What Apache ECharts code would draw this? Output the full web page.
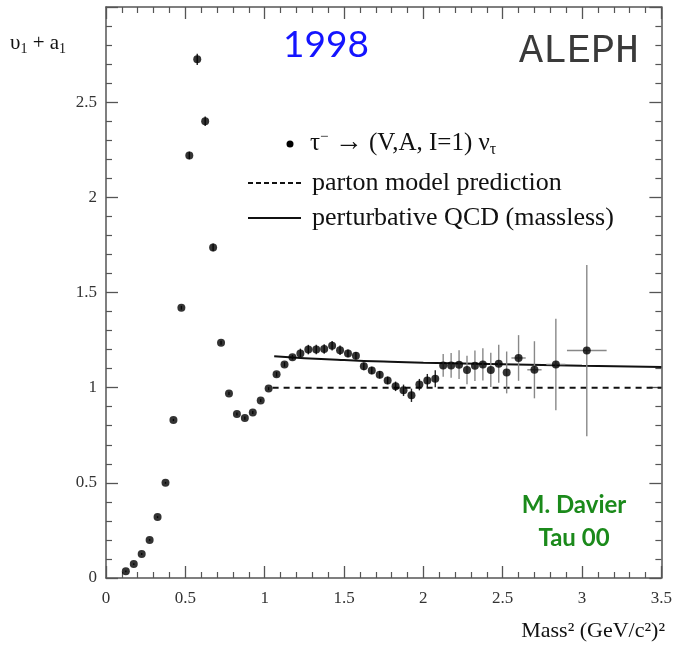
<!DOCTYPE html>
<html>
<head>
<meta charset="utf-8">
<script src="https://cdn.jsdelivr.net/npm/echarts@6/dist/echarts.min.js"></script>
<style>
  html, body { margin: 0; padding: 0; background: #fff; }
  #chart { width: 675px; height: 656px; }
</style>
</head>
<body>
<div id="chart"></div>
<script>
  // measured points, (V+A) spectral function, ALEPH 1998
  var massSq = [0.125, 0.175, 0.225, 0.275, 0.325, 0.375, 0.425, 0.475, 0.525, 0.575,
    0.625, 0.675, 0.725, 0.775, 0.825, 0.875, 0.925, 0.975, 1.025, 1.075,
    1.125, 1.175, 1.225, 1.275, 1.325, 1.375, 1.425, 1.475, 1.525, 1.575,
    1.625, 1.675, 1.725, 1.775, 1.825, 1.875, 1.925, 1.975, 2.025, 2.075,
    2.125, 2.175, 2.225, 2.275, 2.325, 2.375, 2.425, 2.475, 2.525, 2.600,
    2.700, 2.835, 3.030]
  var spectral = [0.035, 0.073, 0.126, 0.200, 0.320, 0.500, 0.830, 1.420, 2.220, 2.725,
    2.400, 1.737, 1.236, 0.970, 0.862, 0.840, 0.869, 0.933, 0.995, 1.070,
    1.122, 1.160, 1.180, 1.200, 1.200, 1.203, 1.220, 1.196, 1.180, 1.168,
    1.112, 1.090, 1.068, 1.038, 1.007, 0.986, 0.960, 1.016, 1.037, 1.047,
    1.117, 1.117, 1.121, 1.093, 1.115, 1.122, 1.093, 1.126, 1.080, 1.156,
    1.094, 1.122, 1.195]
  var errY = [0.005, 0.005, 0.005, 0.005, 0.005, 0.005, 0.006, 0.010, 0.020, 0.030,
    0.025, 0.020, 0.010, 0.008, 0.008, 0.008, 0.008, 0.008, 0.008, 0.012,
    0.012, 0.012, 0.025, 0.025, 0.025, 0.025, 0.025, 0.025, 0.020, 0.020,
    0.020, 0.020, 0.020, 0.020, 0.025, 0.030, 0.035, 0.030, 0.035, 0.045,
    0.060, 0.065, 0.075, 0.075, 0.080, 0.085, 0.090, 0.100, 0.110, 0.120,
    0.150, 0.240, 0.450]
  var errX = [0, 0, 0, 0, 0, 0, 0, 0, 0, 0,
    0, 0, 0, 0, 0, 0, 0, 0, 0, 0,
    0, 0, 0, 0, 0, 0, 0, 0, 0, 0,
    0, 0, 0, 0, 0, 0, 0, 0, 0, 0,
    0, 0, 0, 0, 0, 0, 0, 0, 0, 0.045,
    0.045, 0.060, 0.125]

  var partonX = [1.05, 3.5]
  var partonY = [1.0, 1.0]
  var qcdX = [1.06, 1.25, 1.5, 1.75, 2.0, 2.5, 3.0, 3.5]
  var qcdY = [1.165, 1.155, 1.145, 1.137, 1.131, 1.123, 1.115, 1.108]

  var xTicks = [0, 3.5, 0.5]   // min, max, step
  var yTicks = [0, 3, 0.5]

  var serif = '"Liberation Serif", "DejaVu Serif", serif'
  var frame = '#555'

  function axisBase(pos, ticks, showLabel) {
    return {
      type: 'value',
      position: pos,
      min: ticks[0],
      max: ticks[1],
      interval: ticks[2],
      axisLine: { show: true, onZero: false, lineStyle: { color: frame, width: 1.5 } },
      axisTick: { show: true, inside: true, length: 12, lineStyle: { color: frame, width: 1.3 } },
      minorTick: { show: true, splitNumber: 5, length: 6, lineStyle: { color: frame, width: 1.2 } },
      splitLine: { show: false },
      minorSplitLine: { show: false },
      axisLabel: {
        show: showLabel,
        fontFamily: serif,
        fontSize: 17,
        color: '#333',
        margin: 9
      }
    }
  }

  var points = massSq.map(function (x, i) { return [x, spectral[i]] })
  var bars = massSq.map(function (x, i) { return [x, spectral[i], errY[i], errX[i]] })

  var chart = echarts.init(document.getElementById('chart'), null, { renderer: 'canvas' })

  var xBottom = axisBase('bottom', xTicks, true)
  xBottom.axisLabel.margin = 12
  var yLeft = axisBase('left', yTicks, true)
  yLeft.axisLabel.showMaxLabel = false

  chart.setOption({
    animation: false,
    backgroundColor: '#fff',
    grid: { left: 106, top: 7, right: 11, bottom: 78 },
    xAxis: [xBottom, axisBase('top', xTicks, false)],
    yAxis: [yLeft, axisBase('right', yTicks, false)],
    series: [
      {
        name: 'parton model prediction',
        type: 'line',
        data: partonX.map(function (x, i) { return [x, partonY[i]] }),
        showSymbol: false,
        lineStyle: { color: '#111', width: 2, type: [6, 5] },
        z: 2
      },
      {
        name: 'perturbative QCD (massless)',
        type: 'line',
        smooth: true,
        data: qcdX.map(function (x, i) { return [x, qcdY[i]] }),
        showSymbol: false,
        lineStyle: { color: '#111', width: 2 },
        z: 2
      },
      {
        name: 'errors',
        type: 'custom',
        data: bars,
        encode: { x: 0, y: 1 },
        renderItem: function (params, api) {
          var x = api.value(0), y = api.value(1), ey = api.value(2), ex = api.value(3)
          var lo = api.coord([x, y - ey]), hi = api.coord([x, y + ey])
          var l = api.coord([x - ex, y]), r = api.coord([x + ex, y])
          var style = { stroke: ey > 0.05 ? '#888' : '#222', lineWidth: 1.4 }
          var kids = [{ type: 'line', shape: { x1: lo[0], y1: lo[1], x2: hi[0], y2: hi[1] }, style: style }]
          if (ex > 0) {
            kids.push({ type: 'line', shape: { x1: l[0], y1: l[1], x2: r[0], y2: r[1] }, style: style })
          }
          return { type: 'group', children: kids }
        },
        z: 3
      },
      {
        name: 'tau data',
        type: 'scatter',
        data: points,
        symbol: 'circle',
        symbolSize: 8,
        itemStyle: { color: '#000' },
        z: 4
      }
    ],
    graphic: [
      {
        type: 'text', left: 10, top: 33,
        style: {
          text: 'υ{s|1} + a{s|1}',
          font: '21px ' + serif, fill: '#111',
          rich: { s: { fontSize: 14, fontFamily: serif, padding: [11, 0, 0, 0] } }
        }
      },
      {
        type: 'text', right: 10, top: 620,
        style: {
          text: 'Mass² (GeV/c²)²',
          font: '22px ' + serif, fill: '#111'
        }
      },
      {
        type: 'text', left: 283, top: 27,
        style: { text: '1998', font: '37px Lato, "Open Sans", sans-serif', fill: '#1414ff' }
      },
      {
        type: 'text', right: 36, top: 31,
        style: { text: 'ALEPH', font: '40px "Liberation Mono", "DejaVu Sans Mono", monospace', fill: '#3a3a3a' }
      },
      {
        type: 'text', x: 574, y: 489,
        style: {
          text: 'M. Davier\nTau 00', align: 'center', verticalAlign: 'top', lineHeight: 33,
          font: 'bold 24px Lato, "Open Sans", sans-serif', fill: '#1b8a1b'
        }
      },
      // legend
      { type: 'circle', shape: { cx: 290, cy: 144, r: 3.5 }, style: { fill: '#000' } },
      {
        type: 'text', left: 310, top: 129,
        style: {
          text: 'τ{p|−} {a|→} (V,A, I=1) ν{b|τ}',
          font: '25px ' + serif, fill: '#111',
          rich: {
            p: { fontSize: 15, fontFamily: serif, padding: [0, 0, 11, 0] },
            a: { fontSize: 28, fontFamily: serif },
            b: { fontSize: 16, fontFamily: serif, padding: [14, 0, 0, 0] }
          }
        }
      },
      {
        type: 'line', shape: { x1: 248, y1: 183, x2: 301, y2: 183 },
        style: { stroke: '#111', lineWidth: 2, lineDash: [5, 3] }
      },
      {
        type: 'text', left: 312, top: 170,
        style: { text: 'parton model prediction', font: '26px ' + serif, fill: '#111' }
      },
      {
        type: 'line', shape: { x1: 248, y1: 218, x2: 301, y2: 218 },
        style: { stroke: '#111', lineWidth: 2 }
      },
      {
        type: 'text', left: 312, top: 205,
        style: { text: 'perturbative QCD (massless)', font: '26px ' + serif, fill: '#111' }
      }
    ]
  })
</script>
</body>
</html>
